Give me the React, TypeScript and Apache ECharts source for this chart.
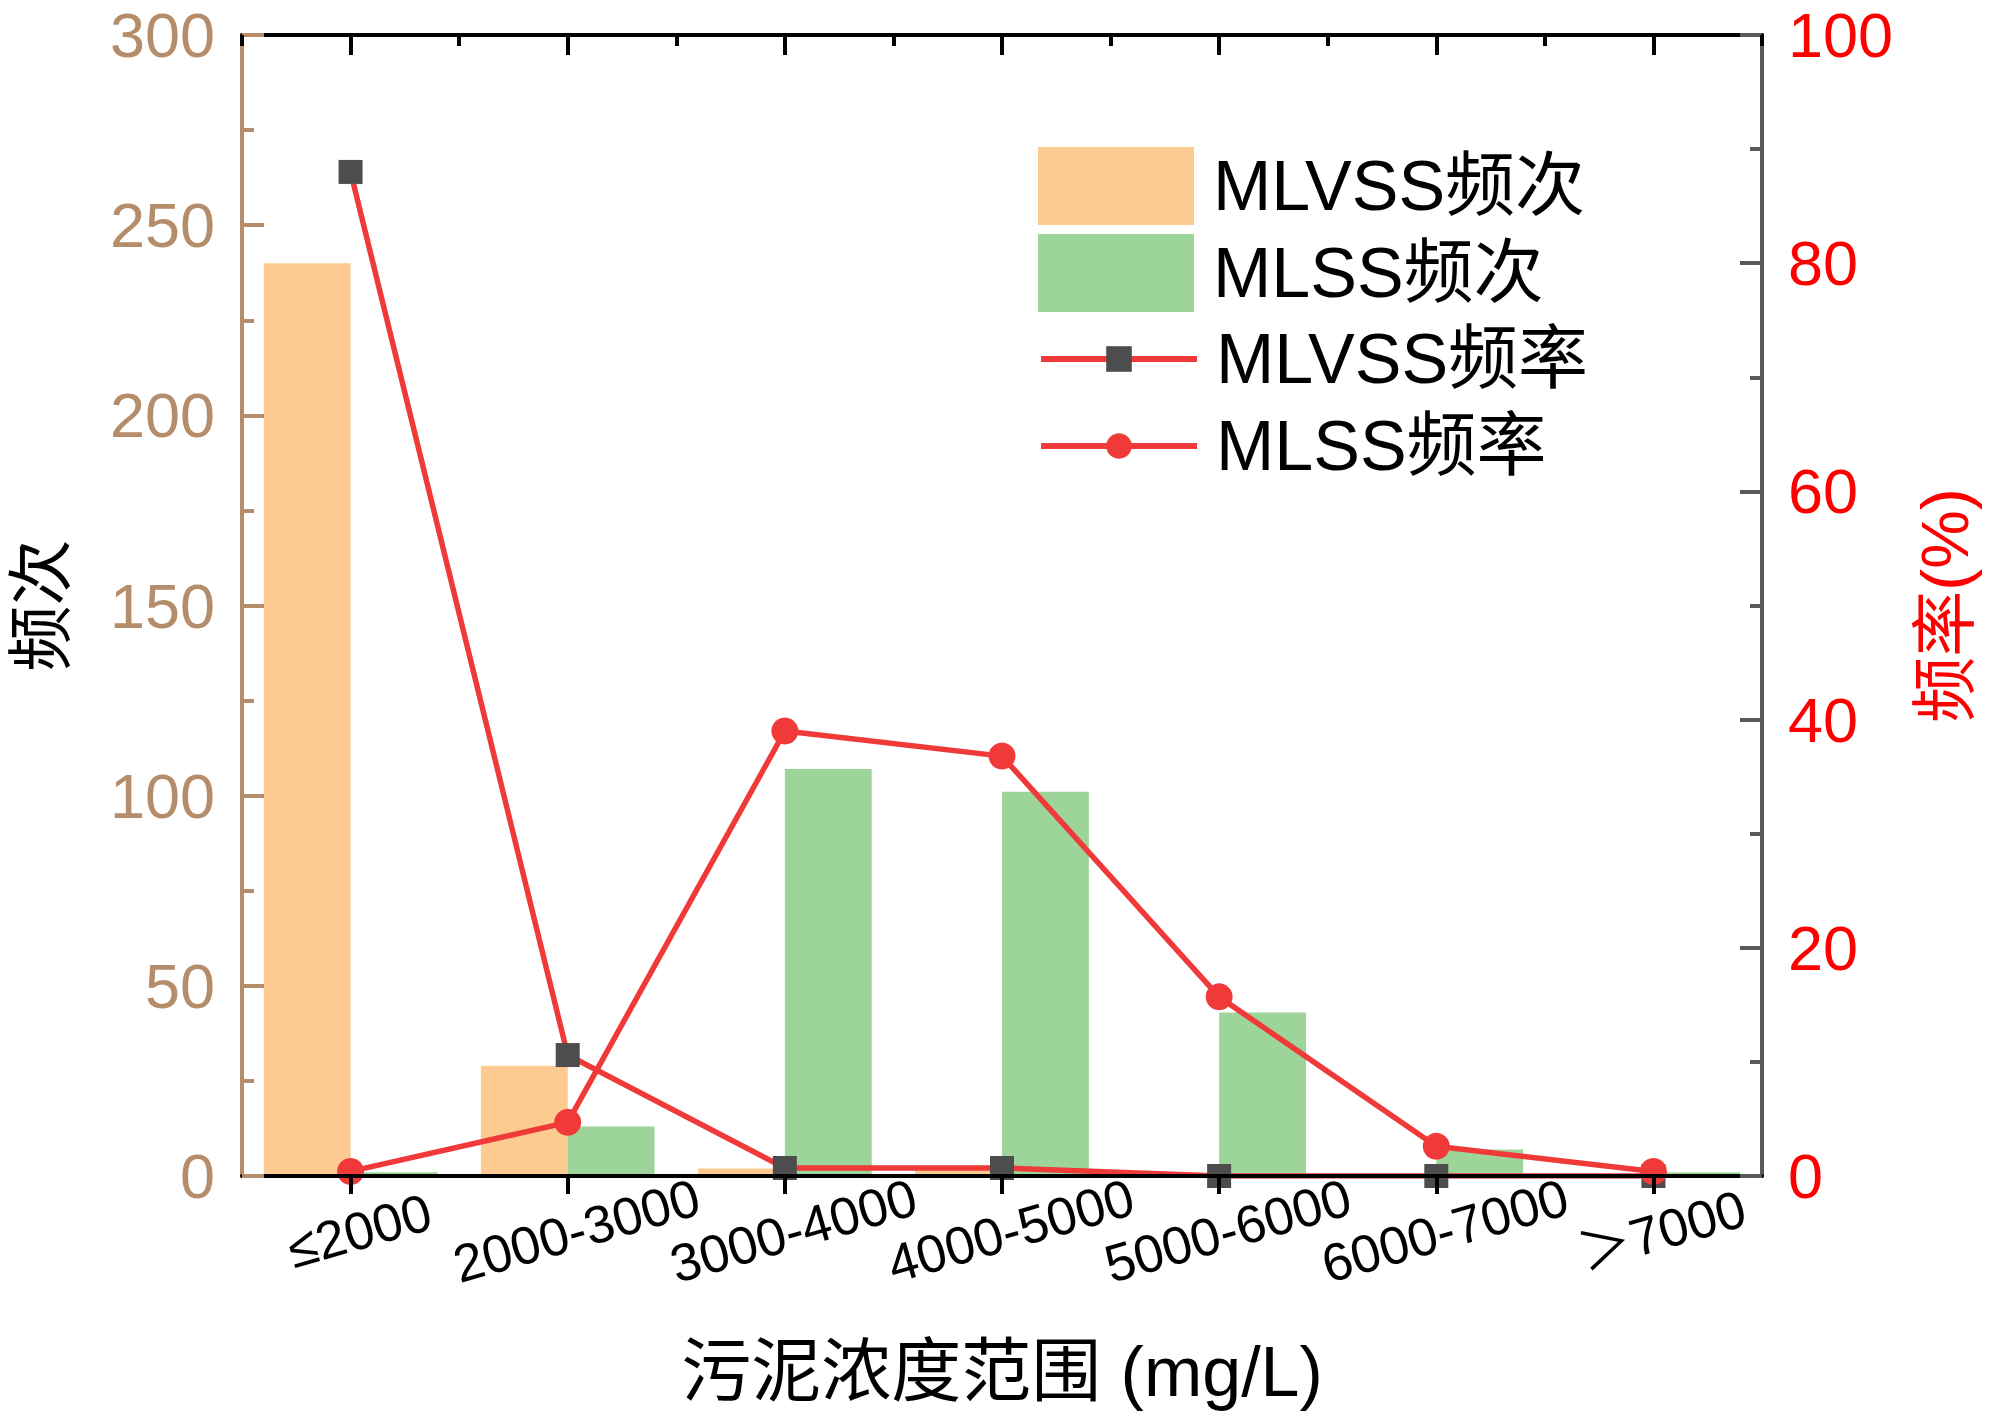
import React, { useEffect, useRef } from "react";
import * as echarts from "echarts";

const categories = ["≤2000", "2000-3000", "3000-4000", "4000-5000", "5000-6000", "6000-7000", "＞7000"];
const mlvssCount = [240, 29, 2, 2, 0, 0, 0];
const mlssCount = [1, 13, 107, 101, 43, 7, 1];
const mlvssRate = [88, 10.6, 0.7, 0.7, 0, 0, 0];
const mlssRate = [0.4, 4.7, 39, 36.8, 15.7, 2.6, 0.4];
const countAxis = { min: 0, max: 300, interval: 50 };
const rateAxis = { min: 0, max: 100, interval: 20 };

const FONT = '"Liberation Sans", Arial, "Noto Sans CJK SC", sans-serif';
const TAN = "#B68D6B";
const RED = "#F03A3A";
const GRAY = "#595959";

export default function App() {
  const ref = useRef<HTMLDivElement>(null);
  useEffect(() => {
    if (!ref.current) return;
    const chart = echarts.init(ref.current, undefined, { renderer: "svg" });
    const option: any = {
      animation: false,
      backgroundColor: "#ffffff",
      textStyle: { fontFamily: FONT },
      grid: { left: 235, right: 238, top: 35, bottom: 238, containLabel: false },
      legend: [
        {
          data: [
            { name: "MLVSS频次", icon: "rect" },
            { name: "MLSS频次", icon: "rect" },
          ],
          orient: "vertical",
          left: 1033,
          top: 142,
          itemWidth: 156,
          itemHeight: 78,
          itemGap: 9,
          textStyle: { fontFamily: FONT, fontSize: 70, color: "#000", padding: [0, 0, 0, 14], lineHeight: 78 },
        },
        {
          data: ["MLVSS频率", "MLSS频率"],
          orient: "vertical",
          left: 1033,
          top: 315,
          itemWidth: 156,
          itemHeight: 32,
          itemGap: 9,
          lineStyle: { width: 6, color: RED },
          textStyle: { fontFamily: FONT, fontSize: 70, color: "#000", padding: [0, 0, 0, 14], lineHeight: 78 },
        },
      ],
      xAxis: [
        {
          type: "category",
          data: categories,
          position: "bottom",
          z: 5,
          boundaryGap: true,
          axisLine: { show: true, onZero: false, lineStyle: { color: "#000", width: 4 } },
          axisTick: { show: true, interval: 0, alignWithLabel: true, inside: false, length: 18, lineStyle: { color: "#000", width: 4 } },
          axisLabel: {
            interval: 0,
            hideOverlap: false,
            rotate: 16,
            align: "center",
            verticalAlign: "middle",
            margin: 57,
            fontSize: 53,
            color: "#000",
            fontFamily: FONT,
            padding: [0, 0, 0, 18],
          },
          name: "污泥浓度范围 (mg/L)",
          nameLocation: "middle",
          nameGap: 196,
          nameTextStyle: { fontSize: 70, color: "#000", fontFamily: FONT, verticalAlign: "middle" },
          splitLine: { show: false },
        },
        {
          type: "category",
          data: categories,
          position: "top",
          z: 5,
          boundaryGap: true,
          axisLine: { show: true, onZero: false, lineStyle: { color: "#000", width: 4 } },
          axisTick: { show: true, interval: 0, alignWithLabel: true, inside: true, length: 20, lineStyle: { color: "#000", width: 4 } },
          axisLabel: { show: false, interval: 0 },
          splitLine: { show: false },
        },
        {
          type: "category",
          data: categories,
          position: "top",
          z: 5,
          boundaryGap: true,
          axisLine: { show: false, onZero: false },
          axisTick: { show: true, interval: 0, alignWithLabel: false, inside: true, length: 11, lineStyle: { color: "#000", width: 4 } },
          axisLabel: { show: false, interval: 0 },
          splitLine: { show: false },
        },
      ],
      yAxis: [
        {
          type: "value",
          position: "left",
          min: countAxis.min,
          max: countAxis.max,
          interval: countAxis.interval,
          z: 5,
          axisLine: { show: true, onZero: false, lineStyle: { color: TAN, width: 4 } },
          axisTick: { show: true, inside: true, length: 22, lineStyle: { color: TAN, width: 4 } },
          minorTick: { show: true, splitNumber: 2, length: 12, lineStyle: { color: TAN, width: 4 } },
          axisLabel: { fontSize: 63, color: TAN, margin: 27, fontFamily: FONT },
          splitLine: { show: false },
          name: "频次",
          nameLocation: "middle",
          nameRotate: 90,
          nameGap: 168,
          nameTextStyle: { fontSize: 66, color: "#000", fontFamily: FONT },
        },
        {
          type: "value",
          position: "right",
          min: rateAxis.min,
          max: rateAxis.max,
          interval: rateAxis.interval,
          z: 5,
          axisLine: { show: true, onZero: false, lineStyle: { color: GRAY, width: 4 } },
          axisTick: { show: true, inside: true, length: 22, lineStyle: { color: GRAY, width: 4 } },
          minorTick: { show: true, splitNumber: 2, length: 12, lineStyle: { color: GRAY, width: 4 } },
          axisLabel: { fontSize: 63, color: "#FF0000", margin: 26, fontFamily: FONT },
          splitLine: { show: false },
          name: "频率(%)",
          nameLocation: "middle",
          nameRotate: 90,
          nameGap: 150,
          nameTextStyle: { fontSize: 66, color: "#FF0000", fontFamily: FONT },
        },
      ],
      series: [
        {
          name: "MLVSS频次",
          type: "bar",
          xAxisIndex: 0,
          yAxisIndex: 0,
          data: mlvssCount,
          barWidth: "40%",
          barGap: "0%",
          itemStyle: { color: "#FDCB91" },
          z: 2,
        },
        {
          name: "MLSS频次",
          type: "bar",
          xAxisIndex: 0,
          yAxisIndex: 0,
          data: mlssCount,
          barWidth: "40%",
          barGap: "0%",
          itemStyle: { color: "#9DD49A" },
          z: 2,
        },
        {
          name: "MLVSS频率",
          type: "line",
          xAxisIndex: 0,
          yAxisIndex: 1,
          data: mlvssRate,
          symbol: "rect",
          symbolSize: 24,
          itemStyle: { color: "#4D4D4D" },
          lineStyle: { color: RED, width: 5.5 },
          z: 3,
        },
        {
          name: "MLSS频率",
          type: "line",
          xAxisIndex: 0,
          yAxisIndex: 1,
          data: mlssRate,
          symbol: "circle",
          symbolSize: 27,
          itemStyle: { color: RED },
          lineStyle: { color: RED, width: 5.5 },
          z: 4,
        },
      ],
    };
    chart.setOption(option);
    return () => chart.dispose();
  }, []);
  return (
    <div
      ref={ref}
      style={{ position: "absolute", left: 0, top: 0, width: 2000, height: 1414, background: "#fff" }}
    />
  );
}
